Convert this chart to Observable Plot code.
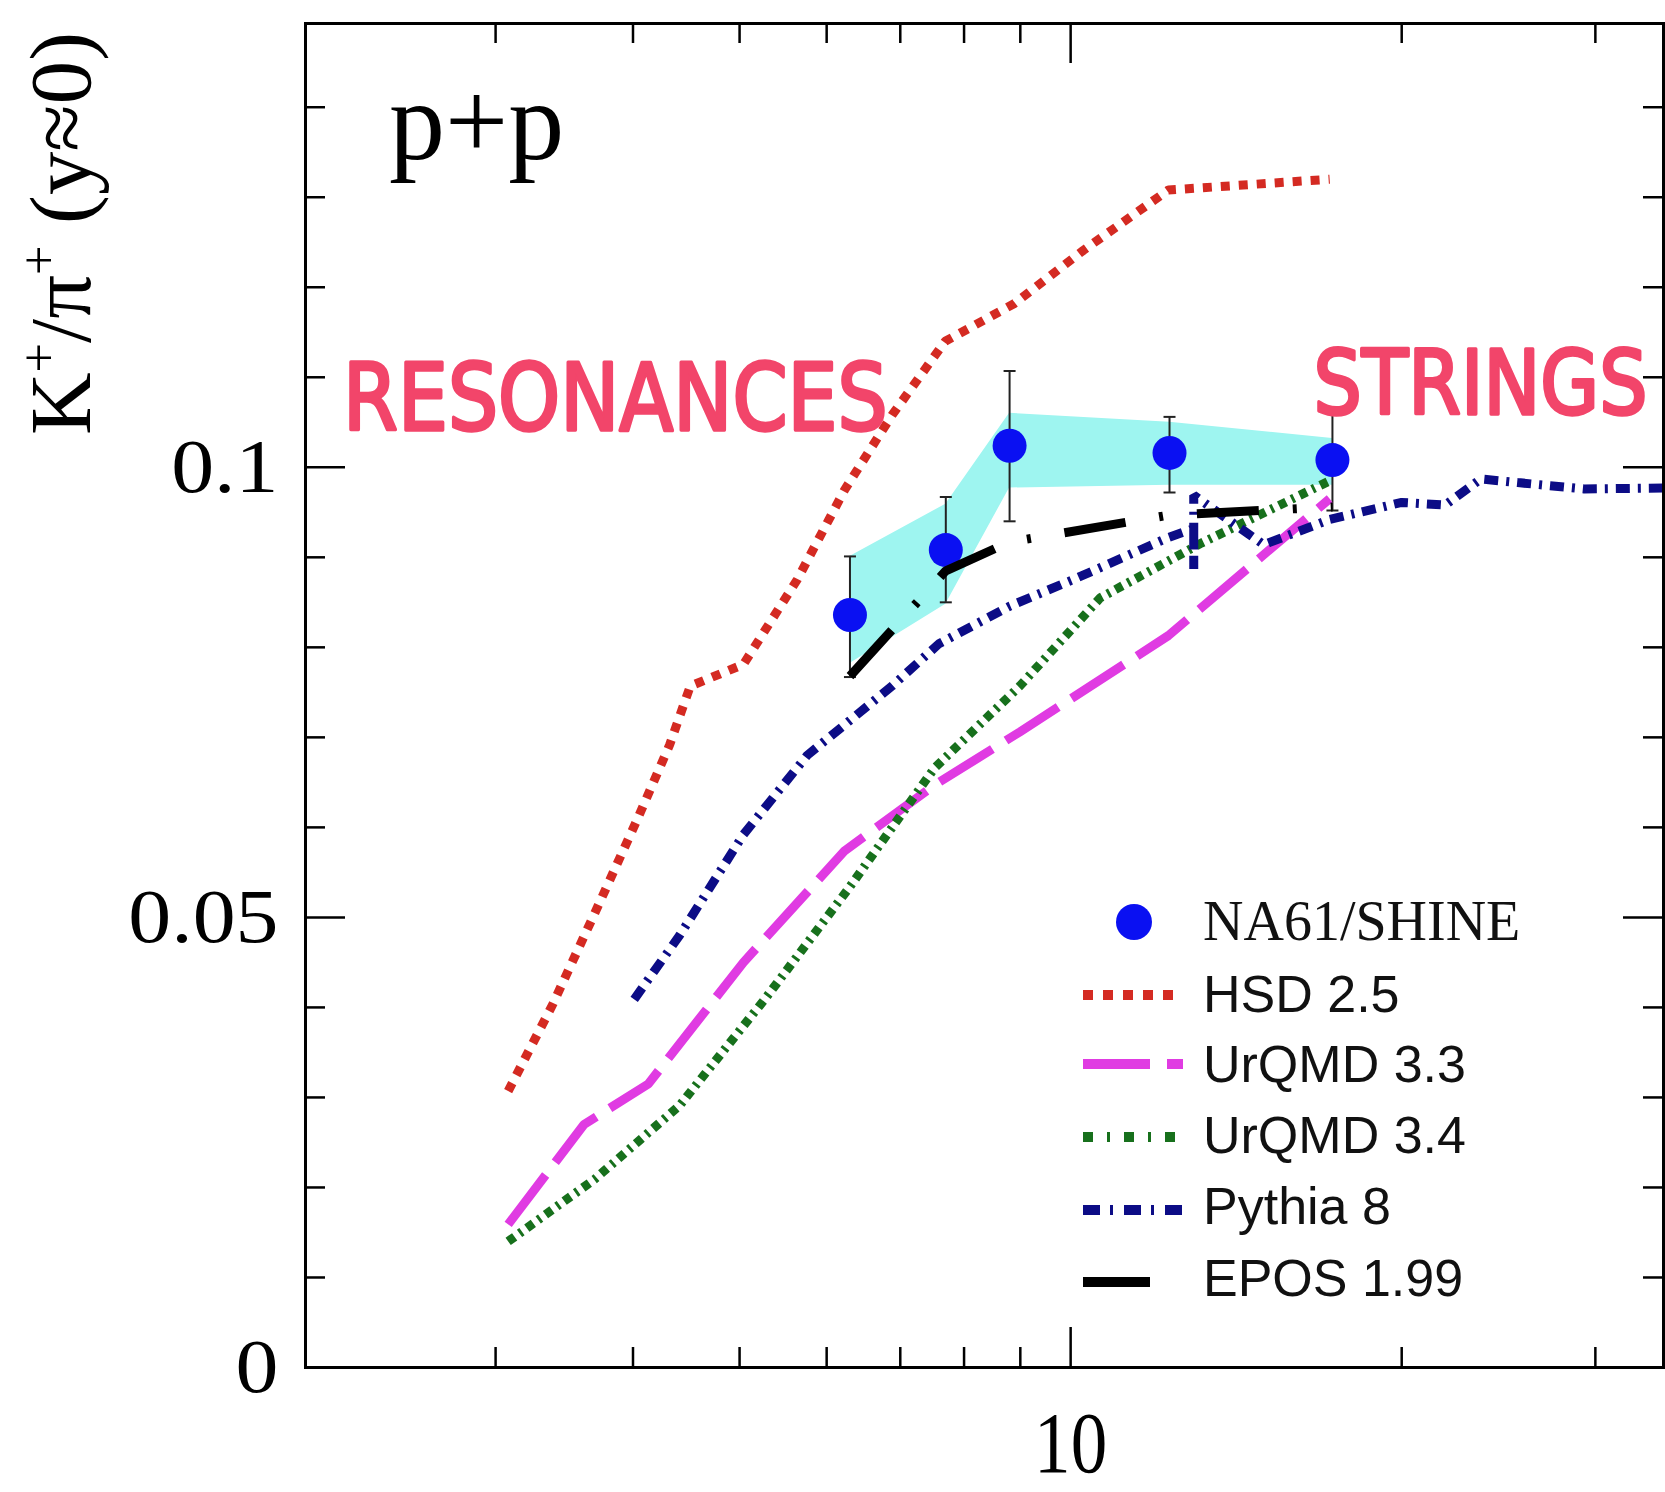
<!DOCTYPE html>
<html><head><meta charset="utf-8">
<script src="https://cdn.jsdelivr.net/npm/d3@7"></script>
<script src="https://cdn.jsdelivr.net/npm/@observablehq/plot@0.6"></script>
<style>html,body{margin:0;padding:0;background:#fff;overflow:hidden}#chart{width:1665px;height:1492px}</style>
</head><body><div id="chart"></div>
<script>
// ---- data (sqrt(s_NN) in GeV, K+/pi+ ratio at y~0) ----
const na61Energy = [6.3, 7.7, 8.8, 12.3, 17.3];
const na61Ratio  = [0.0836, 0.0908, 0.1024, 0.1016, 0.1008];
const na61StatLo = [0.0767, 0.0850, 0.0940, 0.0972, 0.0952];
const na61StatHi = [0.0901, 0.0967, 0.1107, 0.1056, 0.1062];
const na61SysLo  = [0.0782, 0.0848, 0.0977, 0.0980, 0.0980];
const na61SysHi  = [0.0901, 0.0959, 0.1060, 0.1050, 0.1032];

const hsdX = [3.08, 3.38, 3.69, 4.04, 4.32, 4.51, 5.04, 5.64, 6.23, 6.88, 7.69, 8.89, 10.27, 12.27, 17.2];
const hsdY = [0.0307, 0.0403, 0.0504, 0.0610, 0.0692, 0.0757, 0.0781, 0.0875, 0.0975, 0.1058, 0.1140, 0.1182, 0.1241, 0.1308, 0.1320];

const urqmd33X = [3.08, 3.61, 4.13, 5.04, 6.23, 7.52, 8.99, 12.27, 17.2];
const urqmd33Y = [0.0159, 0.0270, 0.0315, 0.0450, 0.0574, 0.0647, 0.0706, 0.0813, 0.0965];

const urqmd34X = [3.08, 3.69, 4.41, 5.27, 6.29, 7.52, 8.99, 10.64, 13.11, 17.2];
const urqmd34Y = [0.0140, 0.0209, 0.0291, 0.0409, 0.0533, 0.0666, 0.0757, 0.0855, 0.0915, 0.0985];

const pythiaX = [4.01, 4.41, 5.04, 5.76, 6.88, 7.59, 8.81, 10.04, 12.27, 12.94, 12.94, 12.94, 14.98, 17.2, 20.0, 21.9, 23.6, 25.5, 29.3, 34.6];
const pythiaY = [0.0409, 0.0480, 0.0592, 0.0680, 0.0757, 0.0804, 0.0846, 0.0875, 0.0922, 0.0932, 0.0887, 0.0969, 0.0914, 0.0942, 0.0961, 0.0958, 0.0987, 0.0983, 0.0976, 0.0977];

const eposX = [6.3, 7.7, 8.8, 12.3, 17.3];
const eposY = [0.0768, 0.0885, 0.0917, 0.0947, 0.0956];

const xMajorTicks = [10];
const xMinorTicks = [3, 4, 5, 6, 7, 8, 9, 20, 30];
const yLabelTicks = [0, 0.05, 0.1];
const yMajorTicks = [0.05, 0.1];
const yMinorTicks = [0.01, 0.02, 0.03, 0.04, 0.06, 0.07, 0.08, 0.09, 0.11, 0.12, 0.13, 0.14];

const seriesNames  = ["HSD 2.5", "UrQMD 3.3", "UrQMD 3.4", "Pythia 8", "EPOS 1.99"];
const seriesColors = ["#d42a22", "#e03be2", "#17701c", "#0c0c86", "#000000"];
const seriesDash   = ["9,9", "62,16", "8,6,3,6", "14,8,3,8", "62,34,4,34"];
const seriesWidth  = [9, 9, 9, 9, 9];
const legendDash   = ["10,10", "67,17", "10,14,3,14", "17,10,3,11", "67,40,4,40"];

const dataName = "NA61/SHINE";
const dataColor = "#0a10f2";
const bandColor = "#9ef5f0";
const noteColor = "#f2456a";

// ---- tables ----
const na61 = na61Energy.map((e, i) => ({e, r: na61Ratio[i], lo: na61StatLo[i], hi: na61StatHi[i], slo: na61SysLo[i], shi: na61SysHi[i]}));
const seriesX = [hsdX, urqmd33X, urqmd34X, pythiaX, eposX];
const seriesY = [hsdY, urqmd33Y, urqmd34Y, pythiaY, eposY];
const series = seriesNames.map((name, k) => seriesX[k].map((x, i) => ({name, x, y: seriesY[k][i]})));

const W = 1665, H = 1492, mL = 305, mR = 2, mT = 23, mB = 125;
const innerW = W - mL - mR, innerH = H - mT - mB;

const capSymbol = {draw(ctx) { ctx.moveTo(-6, 0); ctx.lineTo(6, 0); }};

const lineMarks = series.map((d, k) => Plot.line(d, {
  x: "x", y: "y", stroke: seriesColors[k], strokeWidth: seriesWidth[k],
  strokeDasharray: seriesDash[k], strokeLinecap: "butt", strokeLinejoin: "miter"
}));

const plot = Plot.plot({
  width: W, height: H,
  marginLeft: mL, marginRight: mR, marginTop: mT, marginBottom: mB,
  style: {background: "#fff", fontFamily: "Liberation Serif", color: "#000"},
  x: {type: "log", domain: [2.015, 34.6]},
  y: {domain: [0, 0.1493]},
  marks: [
    Plot.areaY(na61, {x: "e", y1: "slo", y2: "shi", fill: bandColor, curve: "linear"}),
    Plot.ruleX(na61, {x: "e", y1: "lo", y2: "hi", stroke: "#222", strokeWidth: 2}),
    Plot.dot(na61, {x: "e", y: "lo", symbol: capSymbol, stroke: "#222", strokeWidth: 2, r: 5}),
    Plot.dot(na61, {x: "e", y: "hi", symbol: capSymbol, stroke: "#222", strokeWidth: 2, r: 5}),
    Plot.dot(na61, {x: "e", y: "r", r: 17, fill: dataColor, stroke: null}),
    ...lineMarks,
    // inward ticks on all four sides
    Plot.tickX(xMinorTicks, {x: d => d, insetTop: innerH - 20, stroke: "#000", strokeWidth: 2.5}),
    Plot.tickX(xMajorTicks, {x: d => d, insetTop: innerH - 40, stroke: "#000", strokeWidth: 2.5}),
    Plot.tickX(xMinorTicks, {x: d => d, insetBottom: innerH - 20, stroke: "#000", strokeWidth: 2.5}),
    Plot.tickX(xMajorTicks, {x: d => d, insetBottom: innerH - 40, stroke: "#000", strokeWidth: 2.5}),
    Plot.tickY(yMinorTicks, {y: d => d, insetRight: innerW - 20, stroke: "#000", strokeWidth: 2.5}),
    Plot.tickY(yMajorTicks, {y: d => d, insetRight: innerW - 40, stroke: "#000", strokeWidth: 2.5}),
    Plot.tickY(yMinorTicks, {y: d => d, insetLeft: innerW - 20, stroke: "#000", strokeWidth: 2.5}),
    Plot.tickY(yMajorTicks, {y: d => d, insetLeft: innerW - 40, stroke: "#000", strokeWidth: 2.5}),
    Plot.axisY({ticks: yLabelTicks, tickSize: 0, tickPadding: 27, tickFormat: d => d === 0 ? "0" : String(d),
      fontSize: 76, fontFamily: "Liberation Serif", label: null, anchor: "left", className: "yax"}),
    Plot.axisX({ticks: xMajorTicks, tickSize: 0, tickPadding: 42, tickFormat: d => String(d),
      fontSize: 84, fontFamily: "Liberation Serif", label: null, anchor: "bottom", className: "xax"}),
    Plot.frame({stroke: "#000", strokeWidth: 3}),
    // annotations
    Plot.text(["p+p"], {x: 2.40, y: 0.1342, text: d => d, fontSize: 112, fontFamily: "Liberation Serif",
      textAnchor: "start", lineAnchor: "bottom", fill: "#000"}),
    Plot.text(["RESONANCES"], {x: 2.18, y: 0.1041, text: d => d, fontSize: 79, fontFamily: "DejaVu Sans",
      textAnchor: "start", lineAnchor: "bottom", fill: noteColor, stroke: noteColor, strokeWidth: 3,
      strokeLinejoin: "round", className: "note"}),
    Plot.text(["STRINGS"], {x: 16.63, y: 0.1059, text: d => d, fontSize: 76, fontFamily: "DejaVu Sans",
      textAnchor: "start", lineAnchor: "bottom", fill: noteColor, stroke: noteColor, strokeWidth: 3,
      strokeLinejoin: "round", className: "note"})
  ]
});

document.getElementById("chart").appendChild(plot);
const svg = d3.select(plot);

// glyph proportions of the reference (taller hand lettering, wide/narrow digits)
function rescale(sel, sx, sy) {
  sel.each(function () {
    const t = d3.select(this).attr("transform") || "";
    d3.select(this).attr("transform", `${t} scale(${sx},${sy})`);
  });
}
rescale(svg.selectAll(".note text"), 1, 1.18);
rescale(svg.selectAll(".yax text"), 1.13, 1);
rescale(svg.selectAll(".xax text"), 0.87, 1.04);

// y-axis title with superscripts
const yt = svg.append("text")
  .attr("transform", "translate(90,435) rotate(-90)")
  .attr("font-family", "Liberation Serif").attr("font-size", 86).attr("fill", "#000")
  .attr("text-anchor", "start").attr("textLength", 403).attr("lengthAdjust", "spacingAndGlyphs");
yt.append("tspan").text("K");
yt.append("tspan").attr("font-size", 52).attr("dy", -34).text("+");
yt.append("tspan").attr("dy", 34).text("/π");
yt.append("tspan").attr("font-size", 52).attr("dy", -34).text("+");
yt.append("tspan").attr("dy", 34).text(" (y≈0)");

// legend (inside frame)
const lg = svg.append("g").attr("class", "legend").attr("text-anchor", "start");
const rowY = [922, 995, 1064, 1137, 1210, 1282];
const baseY = [940, 1012, 1082, 1153, 1224, 1296];
lg.append("circle").attr("cx", 1134).attr("cy", rowY[0]).attr("r", 18).attr("fill", dataColor);
lg.append("text").attr("x", 1203).attr("y", baseY[0]).attr("text-anchor", "start")
  .attr("font-family", "Liberation Serif").attr("font-size", 56).attr("fill", "#111").text(dataName);
seriesNames.forEach((name, k) => {
  lg.append("line").attr("x1", 1083).attr("x2", 1183).attr("y1", rowY[k + 1]).attr("y2", rowY[k + 1])
    .attr("stroke", seriesColors[k]).attr("stroke-width", 10)
    .attr("stroke-dasharray", legendDash[k]);
  lg.append("text").attr("x", 1203).attr("y", baseY[k + 1]).attr("text-anchor", "start")
    .attr("font-family", "Liberation Sans").attr("font-size", 52).attr("fill", "#111").text(name);
});
</script></body></html>
